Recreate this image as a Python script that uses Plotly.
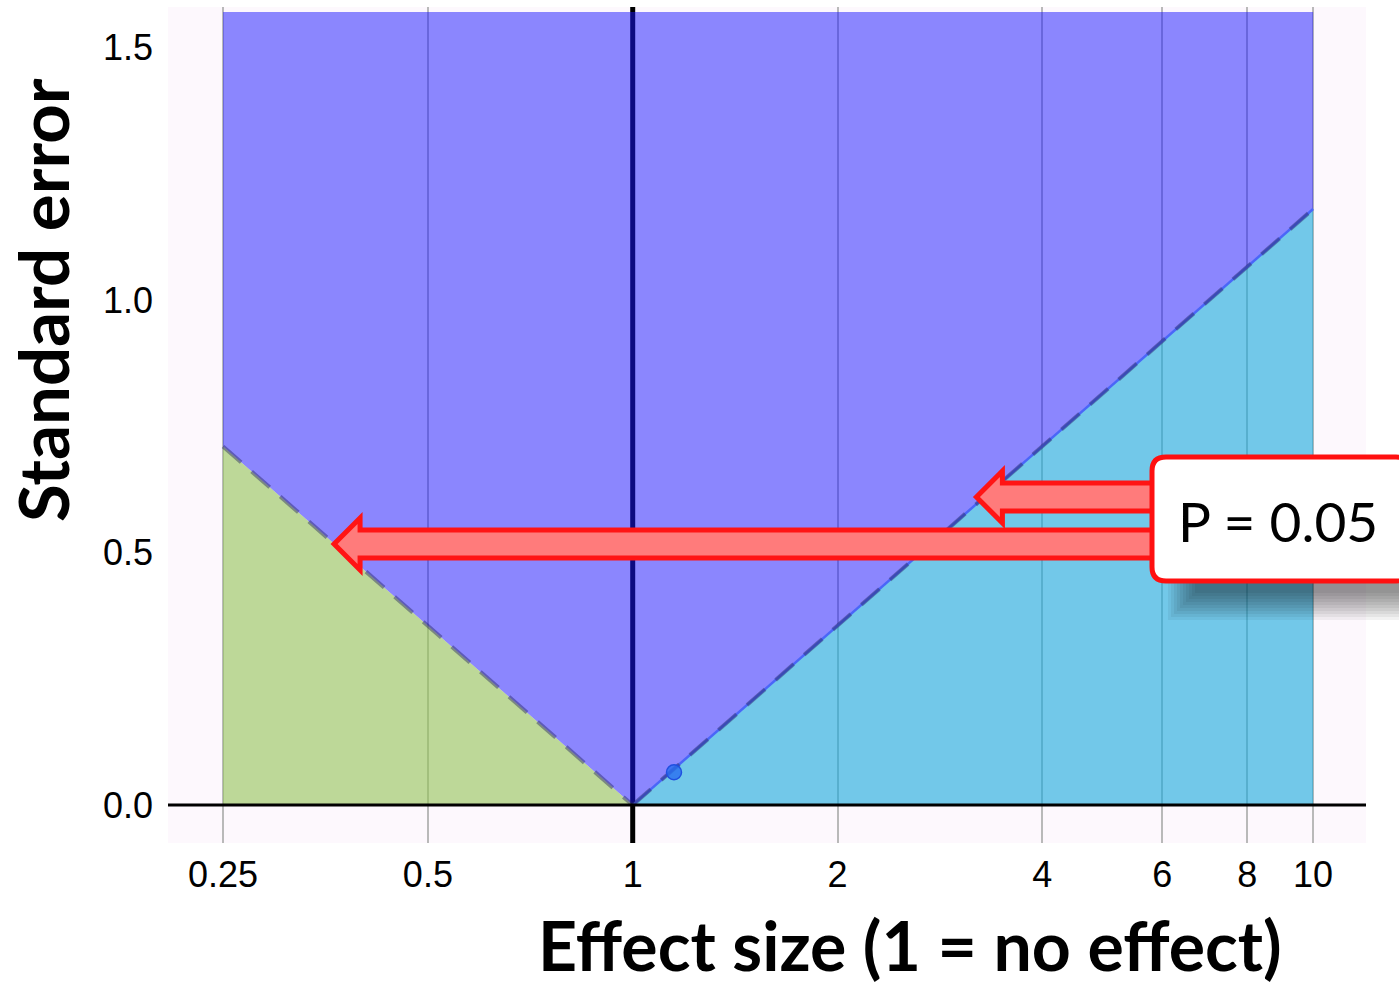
import numpy as np
import plotly.graph_objects as go

# ---------------- data ----------------
x_ticks = [0.25, 0.5, 1, 2, 4, 6, 8, 10]
x_tick_labels = ["0.25", "0.5", "1", "2", "4", "6", "8", "10"]
y_ticks = [0, 0.5, 1.0, 1.5]
y_tick_labels = ["0.0", "0.5", "1.0", "1.5"]

# P = 0.05 boundary (standard error at which the effect becomes significant)
left_x = [0.25, 1]
left_se = [0.71, 0]
right_x = [1, 10]
right_se = [0, 1.18]
se_top = 1.57
x_min, x_max = 0.25, 10

# single study point
study_x = [1.15]
study_se = [0.065]

# arrows pointing to the boundary (tip effect size, SE level)
arrow_tip_x = [3.2, 0.364]
arrow_se = [0.61, 0.517]
callout_text = "P = 0.05"

# ---------------- layout geometry ----------------
W, H = 1399, 982
ML, MR, MT, MB = 168, 33, 7, 139
PW, PH = W - ML - MR, H - MT - MB
XR = [np.log10(0.2075), np.log10(11.96)]
YR = [-0.075, 1.58]


def to_paper(x, y):
    return ((np.log10(x) - XR[0]) / (XR[1] - XR[0]), (y - YR[0]) / (YR[1] - YR[0]))


def px_paper(px, py):
    return ((px - ML) / PW, (H - MB - py) / PH)


fig = go.Figure()

# vertical line at 1 (drawn under the translucent fills)
fig.add_trace(go.Scatter(x=[1, 1], y=[YR[0], YR[1]], mode="lines",
                         line=dict(color="black", width=5), hoverinfo="skip"))

# purple region (not significant)
fig.add_trace(go.Scatter(
    x=[left_x[0], left_x[0], x_max, x_max, right_x[0], left_x[0]],
    y=[left_se[0], se_top, se_top, right_se[1], right_se[0], left_se[0]],
    mode="lines", fill="toself", fillcolor="rgba(26,20,255,0.5)",
    line=dict(width=0), hoverinfo="skip"))

# green region (significant, < 1)
fig.add_trace(go.Scatter(
    x=[left_x[0], left_x[0], left_x[1], left_x[0]],
    y=[0, left_se[0], left_se[1], 0],
    mode="lines", fill="toself", fillcolor="rgba(147,195,85,0.6)",
    line=dict(width=0), hoverinfo="skip"))

# blue region (significant, > 1)
fig.add_trace(go.Scatter(
    x=[right_x[0], right_x[1], right_x[1], right_x[0]],
    y=[right_se[0], right_se[1], 0, 0],
    mode="lines", fill="toself", fillcolor="rgba(22,168,220,0.6)",
    line=dict(width=0), hoverinfo="skip"))

# thin blue line on right boundary
fig.add_trace(go.Scatter(x=right_x, y=right_se, mode="lines",
                         line=dict(color="#4a66f8", width=2.5), hoverinfo="skip"))

# dashed boundaries
for bx, by in [(left_x, left_se), (right_x, right_se)]:
    fig.add_trace(go.Scatter(x=bx, y=by, mode="lines",
                             line=dict(color="rgba(40,40,100,0.45)", width=4,
                                       dash="24px,14px"),
                             hoverinfo="skip"))

# study point
fig.add_trace(go.Scatter(x=study_x, y=study_se, mode="markers",
                         marker=dict(size=15, color="rgba(40,110,240,0.8)",
                                     line=dict(color="#1f4fe0", width=1.5)),
                         hoverinfo="skip"))

shapes = []
# zero line
shapes.append(dict(type="line", xref="paper", yref="y", x0=0, x1=1, y0=0, y1=0,
                   line=dict(color="black", width=3), layer="above"))

# arrows
tail_px = 1165
for tx_d, ty_d in zip(arrow_tip_x, arrow_se):
    tx, ty = to_paper(tx_d, ty_d)
    hl, hh, sh = 26 / PW, 26 / PH, 14 / PH
    tail = (tail_px - ML) / PW
    pts = [(tx, ty), (tx + hl, ty + hh), (tx + hl, ty + sh), (tail, ty + sh),
           (tail, ty - sh), (tx + hl, ty - sh), (tx + hl, ty - hh)]
    path = "M " + " L ".join(f"{a:.5f},{b:.5f}" for a, b in pts) + " Z"
    shapes.append(dict(type="path", xref="paper", yref="paper", path=path,
                       fillcolor="#ff7b7b", line=dict(color="#ff1414", width=5),
                       layer="above"))

# callout shadow (soft)
for i in range(10):
    x0, y0 = px_paper(1168 + i * 3, 620 - i * 3)
    x1, y1 = px_paper(1430, 470)
    shapes.append(dict(type="rect", xref="paper", yref="paper",
                       x0=x0, x1=x1, y0=y0, y1=y1,
                       fillcolor="rgba(0,0,0,0.05)", line=dict(width=0),
                       layer="above"))

# callout box (rounded rect)
bx0, by0, bx1, by1, r = 1152, 457, 1410, 581, 14


def pp(px, py):
    a, b = px_paper(px, py)
    return f"{a:.5f},{b:.5f}"


box_path = (f"M {pp(bx0 + r, by0)} L {pp(bx1 - r, by0)} Q {pp(bx1, by0)} {pp(bx1, by0 + r)} "
            f"L {pp(bx1, by1 - r)} Q {pp(bx1, by1)} {pp(bx1 - r, by1)} "
            f"L {pp(bx0 + r, by1)} Q {pp(bx0, by1)} {pp(bx0, by1 - r)} "
            f"L {pp(bx0, by0 + r)} Q {pp(bx0, by0)} {pp(bx0 + r, by0)} Z")
shapes.append(dict(type="path", xref="paper", yref="paper", path=box_path,
                   fillcolor="white", line=dict(color="#ff1010", width=5),
                   layer="above"))

cx, cy = px_paper(1278, 521)
tx_, ty_ = px_paper(42, 300)
bx_, by_ = px_paper(910, 944)
annotations = [
    dict(text=callout_text, xref="paper", yref="paper", x=cx, y=cy,
         showarrow=False, xanchor="center", yanchor="middle",
         font=dict(family="Lato", size=55, color="black")),
    dict(text="<b>Standard error</b>", xref="paper", yref="paper", x=tx_, y=ty_,
         showarrow=False, textangle=-90, xanchor="center", yanchor="middle",
         font=dict(family="Lato", size=69, color="black")),
    dict(text="<b>Effect size (1 = no effect)</b>", xref="paper", yref="paper",
         x=bx_, y=by_, showarrow=False, xanchor="center", yanchor="middle",
         font=dict(family="Lato", size=68, color="black")),
]

fig.update_layout(
    width=W, height=H,
    margin=dict(l=ML, r=MR, t=MT, b=MB, pad=0),
    paper_bgcolor="white", plot_bgcolor="#fdf8fd",
    showlegend=False,
    shapes=shapes, annotations=annotations,
    xaxis=dict(type="log", range=XR, tickvals=x_ticks, ticktext=x_tick_labels,
               showgrid=True, gridcolor="#b9b9b9", gridwidth=2,
               zeroline=False, showline=False, ticks="",
               ticklabelstandoff=7,
               tickfont=dict(family="Liberation Sans", size=36, color="black")),
    yaxis=dict(range=YR, tickvals=y_ticks, ticktext=y_tick_labels,
               showgrid=False, zeroline=False, showline=False, ticks="",
               ticklabelstandoff=14,
               tickfont=dict(family="Liberation Sans", size=36, color="black")),
)

fig.write_html("out.html")
